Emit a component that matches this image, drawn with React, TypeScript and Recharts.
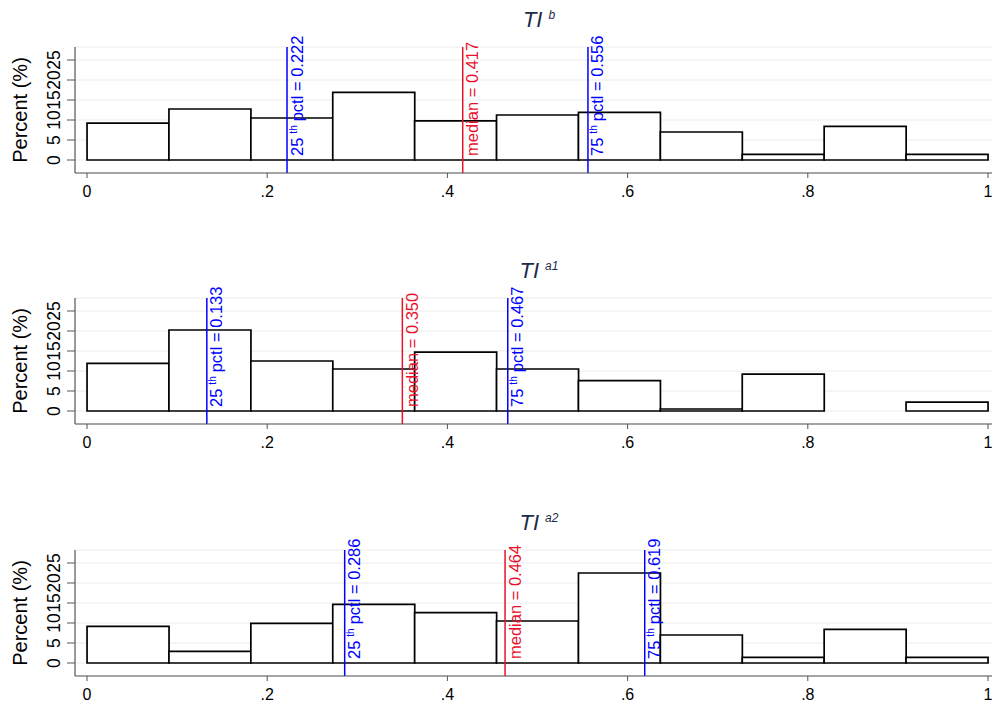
import React from 'react';
import { ComposedChart, Bar, XAxis, YAxis, CartesianGrid, ReferenceLine } from 'recharts';

// Histogram bins (11 equal bins from 0 to 1): bin centres
const binMids = [0.0455, 0.1364, 0.2273, 0.3182, 0.4091, 0.5, 0.5909, 0.6818, 0.7727, 0.8636, 0.9545];

// Percent per bin
const tiB = [9.2, 12.75, 10.5, 16.9, 9.8, 11.25, 11.9, 7.0, 1.4, 8.4, 1.4];
const tiA1 = [11.9, 20.25, 12.5, 10.5, 14.7, 10.5, 7.6, 0.5, 9.2, 0, 2.2];
const tiA2 = [9.15, 2.9, 9.9, 14.65, 12.6, 10.5, 22.5, 7.0, 1.4, 8.4, 1.4];

// Quantiles
const p25 = [0.222, 0.133, 0.286];
const medians = [0.417, 0.35, 0.464];
const p75 = [0.556, 0.467, 0.619];

const titleSups = ['b', 'a1', 'a2'];
const series = [tiB, tiA1, tiA2];

const xTicks = [0, 0.2, 0.4, 0.6, 0.8, 1];
const yTicks = [0, 5, 10, 15, 20, 25];

const FONT = '"Liberation Sans", Arial, Helvetica, sans-serif';
const BLUE = '#0000ff';
const RED = '#e8112d';
const AXIS = '#555555';

const fmtX = (v: number) => (v === 0 ? '0' : v === 1 ? '1' : String(v).replace(/^0/, ''));

const YTick = (props: any) => {
  const { x, y, payload } = props;
  const bx = x - 5;
  return (
    <text x={bx} y={y} transform={`rotate(-90, ${bx}, ${y})`} textAnchor="middle" fontSize={17.5} fontFamily={FONT} fill="#000">
      {payload.value}
    </text>
  );
};

const makeLabel = (kind: 'p25' | 'median' | 'p75', value: number, color: string) => (props: any) => {
  const vb = props.viewBox || {};
  const x = (vb.x ?? 0) + 15.5;
  const y = (vb.y ?? 0) + (vb.height ?? 0) - 17;
  const v = value.toFixed(3);
  return (
    <text x={x} y={y} transform={`rotate(-90, ${x}, ${y})`} textAnchor="start" fontSize={16.5} fontFamily={FONT} fill={color}>
      {kind === 'median' ? (
        `median = ${v}`
      ) : (
        <>
          <tspan>{kind === 'p25' ? '25' : '75'}</tspan>
          <tspan dx={4} dy={-6} fontSize={10}>th</tspan>
          <tspan dx={4} dy={6}>{`pctl = ${v}`}</tspan>
        </>
      )}
    </text>
  );
};

const Panel = ({ idx, top }: { idx: number; top: number }) => {
  const data = binMids.map((m, i) => ({ mid: m, pct: series[idx][i] }));
  return (
    <div style={{ position: 'absolute', left: 0, top, width: 992, height: 251 }}>
      <ComposedChart
        width={992}
        height={251}
        data={data}
        margin={{ top: 47, right: 0, bottom: 48, left: 30 }}
        barCategoryGap={0}
        barGap={0}
      >
        <CartesianGrid horizontal vertical={false} stroke="#ececec" strokeWidth={1} />
        <XAxis
          dataKey="mid"
          type="number"
          domain={[-12 / 901, 1 + 4 / 901]}
          allowDataOverflow
          ticks={xTicks}
          interval={0}
          tickFormatter={fmtX}
          height={30}
          tickSize={5}
          tickMargin={8}
          axisLine={{ stroke: AXIS, strokeWidth: 1.2 }}
          tickLine={{ stroke: AXIS }}
          tick={{ fontSize: 16, fontFamily: FONT, fill: '#000' }}
        />
        <YAxis
          type="number"
          domain={[-3.25, 28.25]}
          allowDataOverflow
          ticks={yTicks}
          interval={0}
          width={45}
          tickSize={8}
          axisLine={{ stroke: AXIS, strokeWidth: 1.2 }}
          tickLine={{ stroke: AXIS }}
          tick={<YTick />}
        />
        <Bar dataKey="pct" fill="#ffffff" stroke="#000" strokeWidth={1.7} isAnimationActive={false} />
        <ReferenceLine x={p25[idx]} stroke={BLUE} strokeWidth={1.5} label={makeLabel('p25', p25[idx], BLUE)} />
        <ReferenceLine x={medians[idx]} stroke={RED} strokeWidth={1.5} label={makeLabel('median', medians[idx], RED)} />
        <ReferenceLine x={p75[idx]} stroke={BLUE} strokeWidth={1.5} label={makeLabel('p75', p75[idx], BLUE)} />
      </ComposedChart>
      <div
        style={{
          position: 'absolute', left: 439, top: 9, width: 200, textAlign: 'center',
          fontFamily: FONT, fontStyle: 'italic', fontSize: 22, lineHeight: '22px', color: '#1c2b4a',
        }}
      >
        TI<span style={{ fontSize: 12, verticalAlign: 'top', marginLeft: 6, lineHeight: '12px' }}>{titleSups[idx]}</span>
      </div>
      <div
        style={{
          position: 'absolute', left: -60, top: 98, width: 160, height: 24, lineHeight: '24px', textAlign: 'center',
          transform: 'rotate(-90deg)', fontFamily: FONT, fontSize: 20, color: '#000',
        }}
      >
        Percent (%)
      </div>
    </div>
  );
};

export default function App() {
  return (
    <div style={{ position: 'absolute', left: 0, top: 0, width: 992, height: 702, overflow: 'hidden', background: '#fff' }}>
      <Panel idx={0} top={0} />
      <Panel idx={1} top={251} />
      <Panel idx={2} top={503} />
    </div>
  );
}
